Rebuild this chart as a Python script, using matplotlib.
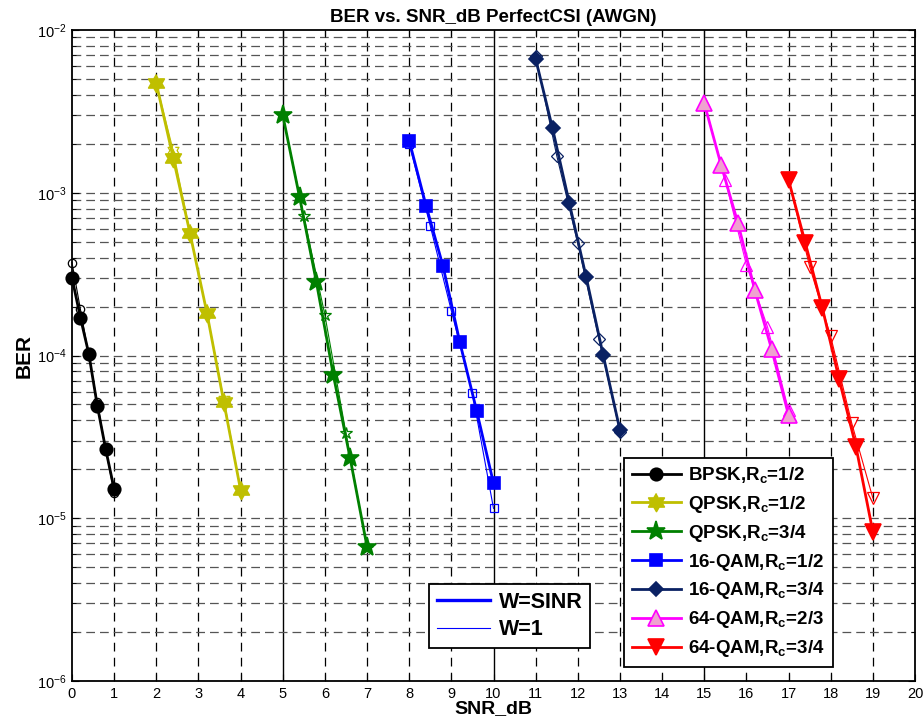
import numpy as np
import matplotlib

matplotlib.use("Agg")
import matplotlib.pyplot as plt
from matplotlib.lines import Line2D

# ---- data (W=SINR filled, W=1 hollow) ----
snr_bpsk = [0, 0.2, 0.4, 0.6, 0.8, 1.0]
ber_bpsk = [3.0e-4, 1.71e-4, 1.02e-4, 4.92e-5, 2.65e-5, 1.51e-5]
snr_bpsk_w1 = [0, 0.2, 0.4, 0.6, 0.8, 1.0]
ber_bpsk_w1 = [3.72e-4, 1.92e-4, 1.0e-4, 5.15e-5, 2.65e-5, 1.42e-5]

snr_qpsk12 = [2, 2.4, 2.8, 3.2, 3.6, 4.0]
ber_qpsk12 = [4.70e-3, 1.64e-3, 5.63e-4, 1.83e-4, 5.2e-5, 1.49e-5]
snr_qpsk12_w1 = [2, 2.4, 2.8, 3.2, 3.6, 4.0]
ber_qpsk12_w1 = [4.7e-3, 1.82e-3, 5.7e-4, 1.83e-4, 5.4e-5, 1.5e-5]

snr_qpsk34 = [5, 5.4, 5.8, 6.2, 6.6, 7.0]
ber_qpsk34 = [3.0e-3, 9.37e-4, 2.81e-4, 7.6e-5, 2.33e-5, 6.68e-6]
snr_qpsk34_w1 = [5, 5.5, 6.0, 6.5, 7.0]
ber_qpsk34_w1 = [3.0e-3, 7.2e-4, 1.77e-4, 3.33e-5, 6.6e-6]

snr_16q12 = [8, 8.4, 8.8, 9.2, 9.6, 10.0]
ber_16q12 = [2.09e-3, 8.32e-4, 3.56e-4, 1.21e-4, 4.58e-5, 1.64e-5]
snr_16q12_w1 = [8, 8.5, 9.0, 9.5, 10.0]
ber_16q12_w1 = [2.0e-3, 6.25e-4, 1.88e-4, 5.85e-5, 1.15e-5]

snr_16q34 = [11, 11.4, 11.8, 12.2, 12.6, 13.0]
ber_16q34 = [6.64e-3, 2.49e-3, 8.61e-4, 3.02e-4, 1.01e-4, 3.48e-5]
snr_16q34_w1 = [11, 11.5, 12.0, 12.5, 13.0]
ber_16q34_w1 = [6.95e-3, 1.69e-3, 4.89e-4, 1.27e-4, 3.4e-5]

snr_64q23 = [15, 15.4, 15.8, 16.2, 16.6, 17.0]
ber_64q23 = [3.55e-3, 1.48e-3, 6.49e-4, 2.52e-4, 1.09e-4, 4.30e-5]
snr_64q23_w1 = [15, 15.5, 16.0, 16.5, 17.0]
ber_64q23_w1 = [3.6e-3, 1.19e-3, 3.60e-4, 1.50e-4, 4.62e-5]

snr_64q34 = [17, 17.4, 17.8, 18.2, 18.6, 19.0]
ber_64q34 = [1.20e-3, 4.89e-4, 1.97e-4, 7.14e-5, 2.75e-5, 8.26e-6]
snr_64q34_w1 = [17, 17.5, 18.0, 18.5, 19.0]
ber_64q34_w1 = [1.2e-3, 3.52e-4, 1.31e-4, 3.83e-5, 1.33e-5]

labels = [
    r"BPSK,R$_\mathbf{c}$=1/2",
    r"QPSK,R$_\mathbf{c}$=1/2",
    r"QPSK,R$_\mathbf{c}$=3/4",
    r"16-QAM,R$_\mathbf{c}$=1/2",
    r"16-QAM,R$_\mathbf{c}$=3/4",
    r"64-QAM,R$_\mathbf{c}$=2/3",
    r"64-QAM,R$_\mathbf{c}$=3/4",
]

plt.rcParams["font.family"] = ["Liberation Sans", "DejaVu Sans"]
plt.rcParams["mathtext.fontset"] = "custom"
plt.rcParams["mathtext.rm"] = "Liberation Sans"
plt.rcParams["mathtext.bf"] = "Liberation Sans:bold"

# six-pointed star (MATLAB hexagram)
ang = np.deg2rad(90 + 30 * np.arange(12))
rad = np.where(np.arange(12) % 2 == 0, 1.0, 1 / np.sqrt(3))
hexagram = list(zip(rad * np.cos(ang), rad * np.sin(ang)))

yellow = "#bfbf00"
green = "#008000"
navy = "#0a2163"
pink = "#efa2cf"

# (x, y, x_w1, y_w1, color, marker, face, ms, ms_w1)
series = [
    (snr_bpsk, ber_bpsk, snr_bpsk_w1, ber_bpsk_w1, "black", "o", "black", 9, 6),
    (snr_qpsk12, ber_qpsk12, snr_qpsk12_w1, ber_qpsk12_w1, yellow, hexagram, yellow, 13, 9),
    (snr_qpsk34, ber_qpsk34, snr_qpsk34_w1, ber_qpsk34_w1, green, "*", green, 14, 9),
    (snr_16q12, ber_16q12, snr_16q12_w1, ber_16q12_w1, "blue", "s", "blue", 8, 6),
    (snr_16q34, ber_16q34, snr_16q34_w1, ber_16q34_w1, navy, "D", navy, 7.5, 6.5),
    (snr_64q23, ber_64q23, snr_64q23_w1, ber_64q23_w1, "magenta", "^", pink, 11, 9),
    (snr_64q34, ber_64q34, snr_64q34_w1, ber_64q34_w1, "red", "v", "red", 11, 9),
]

fig = plt.figure(figsize=(9.24, 7.22), dpi=100)
ax = fig.add_axes([72 / 924, 41 / 722, 843 / 924, 651 / 722])

handles = []
for x, y, xw, yw, col, mk, face, ms, msw in series:
    (h,) = ax.plot(x, y, color=col, lw=2.0, marker=mk, ms=ms,
                   mfc=face, mec=col, mew=1.2, zorder=4, clip_on=False)
    ax.plot(xw, yw, color=col, lw=0.8, marker=mk, ms=msw,
            mfc="none", mec=col, mew=0.9, zorder=3, clip_on=False)
    handles.append(h)

ax.set_yscale("log")
ax.set_xlim(0, 20)
ax.set_ylim(1e-6, 1e-2)
ax.set_xticks(range(0, 21))

# grid: dashed everywhere, solid verticals every 5 dB
for xv in range(1, 20):
    if xv % 5 == 0:
        ax.axvline(xv, color="black", lw=1.0, zorder=1)
    else:
        ax.axvline(xv, color="black", lw=0.9, ls=(0, (7, 5)), zorder=1)
for dec in [1e-6, 1e-5, 1e-4, 1e-3]:
    for m in range(1, 10):
        ax.axhline(dec * m, color="#555555", lw=0.9, ls=(0, (7, 4)), zorder=1)

ax.tick_params(which="both", direction="in", top=True, right=True, labelsize=10.5)
ax.tick_params(which="major", length=5, pad=4)
ax.tick_params(which="minor", length=3)
for sp in ax.spines.values():
    sp.set_linewidth(1.3)

ax.set_title("BER vs. SNR_dB PerfectCSI (AWGN)", fontsize=13.5,
             fontweight="bold", pad=6)
ax.set_xlabel("SNR_dB", fontsize=14, fontweight="bold", labelpad=0)
ax.set_ylabel("BER", fontsize=15, fontweight="bold", labelpad=2)

leg1 = ax.legend(handles, labels, loc="lower left",
                 bbox_to_anchor=(0.655, 0.0215), borderaxespad=0,
                 prop={"size": 13.5, "weight": "bold"},
                 handlelength=2.6, labelspacing=0.42, borderpad=0.42,
                 handletextpad=0.4, fancybox=False, framealpha=1,
                 edgecolor="black")
leg1.get_frame().set_linewidth(1.3)
leg1.set_zorder(10)
ax.add_artist(leg1)

w_handles = [Line2D([], [], color="blue", lw=2.4), Line2D([], [], color="blue", lw=0.8)]
leg2 = ax.legend(w_handles, ["W=SINR", "W=1"], loc="lower left",
                 bbox_to_anchor=(0.4235, 0.0507), borderaxespad=0,
                 prop={"size": 15.5, "weight": "bold"},
                 handlelength=2.5, labelspacing=0.3, borderpad=0.35,
                 handletextpad=0.4, fancybox=False, framealpha=1,
                 edgecolor="black")
leg2.get_frame().set_linewidth(1.3)
leg2.set_zorder(10)

fig.savefig("out.png", dpi=100)
